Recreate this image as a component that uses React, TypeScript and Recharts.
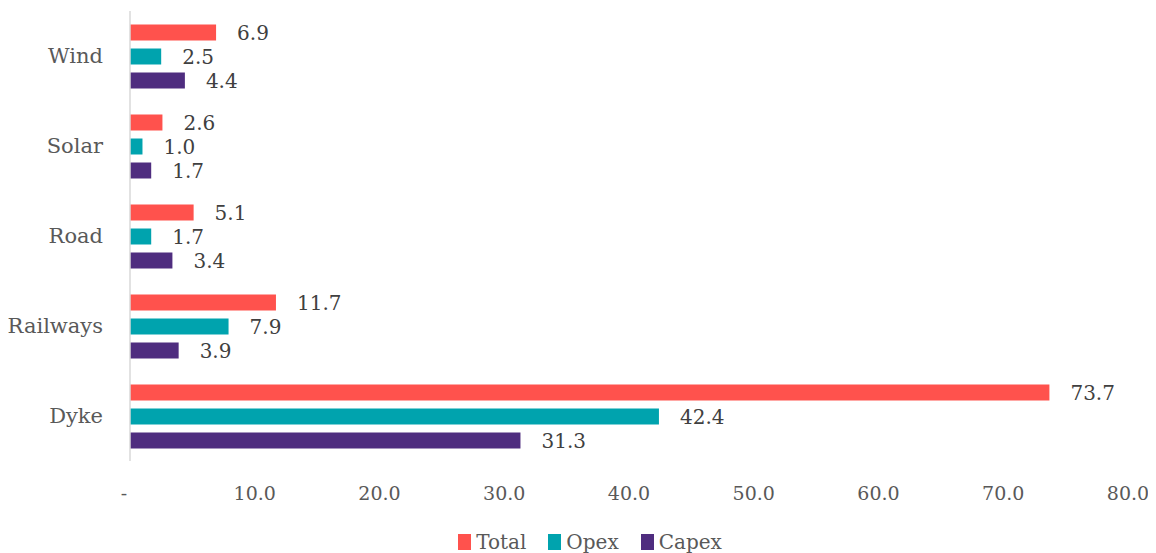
import React from "react";
import { BarChart, Bar, XAxis, YAxis, Legend, LabelList } from "recharts";

const categories = ["Wind", "Solar", "Road", "Railways", "Dyke"];
const totalValues = [6.9, 2.6, 5.1, 11.7, 73.7];
const opexValues = [2.5, 1.0, 1.7, 7.9, 42.4];
const capexValues = [4.4, 1.7, 3.4, 3.9, 31.3];
const xTicks = [0, 10, 20, 30, 40, 50, 60, 70, 80];

const SERIES = [
  { key: "Total", color: "#FF524D" },
  { key: "Opex", color: "#00A3AE" },
  { key: "Capex", color: "#4F2D7F" },
];

const FONT = '"DejaVu Serif", "Liberation Serif", serif';

const chartData = categories.map((name, i) => ({
  name,
  Total: totalValues[i],
  Opex: opexValues[i],
  Capex: capexValues[i],
}));

const formatTick = (v: number) => (v === 0 ? "-" : v.toFixed(1));

const XTick = (props: any) => {
  const { x, y, payload } = props;
  const isZero = payload.value === 0;
  return (
    <text
      x={isZero ? x - 6 : x}
      y={y}
      dy="0.71em"
      textAnchor="middle"
      fill="#595959"
      fontSize={19}
      fontFamily={FONT}
    >
      {formatTick(payload.value)}
    </text>
  );
};

// legend sits a bit right of centre in the original
const LegendContent = () => (
  <div
    style={{
      display: "flex",
      justifyContent: "center",
      alignItems: "center",
      height: 32,
      paddingTop: 10,
      paddingLeft: 52,
      boxSizing: "border-box",
      fontFamily: FONT,
      fontSize: 20,
      color: "#595959",
    }}
  >
    {SERIES.map((s) => (
      <span
        key={s.key}
        style={{ display: "flex", alignItems: "center", margin: "0 11px" }}
      >
        <span
          style={{
            display: "inline-block",
            width: 13,
            height: 16,
            background: s.color,
            marginRight: 5,
          }}
        />
        {s.key}
      </span>
    ))}
  </div>
);

export default function App() {
  return (
    <div style={{ margin: "-8px 0 0 -8px", width: 1156, height: 553 }}>
      <BarChart
        width={1156}
        height={553}
        data={chartData}
        layout="vertical"
        margin={{ top: 11, right: 28, bottom: 0, left: 0 }}
        barCategoryGap="15%"
        barGap={8}
      >
        <XAxis
          type="number"
          domain={[0, 80]}
          ticks={xTicks}
          axisLine={false}
          tickLine={false}
          tickMargin={20}
          height={60}
          tick={<XTick />}
          interval={0}
        />
        <YAxis
          type="category"
          dataKey="name"
          width={130}
          axisLine={{ stroke: "#D9D9D9", strokeWidth: 1.5 }}
          tickLine={false}
          tickMargin={21}
          tick={{ fill: "#595959", fontSize: 21, fontFamily: FONT }}
        />
        <Legend verticalAlign="bottom" content={<LegendContent />} />
        {SERIES.map((s) => (
          <Bar
            key={s.key}
            dataKey={s.key}
            fill={s.color}
            isAnimationActive={false}
          >
            <LabelList
              dataKey={s.key}
              position="right"
              offset={21}
              formatter={(v: any) => Number(v).toFixed(1)}
              fill="#404040"
              fontSize={20}
              fontFamily={FONT}
            />
          </Bar>
        ))}
      </BarChart>
    </div>
  );
}
